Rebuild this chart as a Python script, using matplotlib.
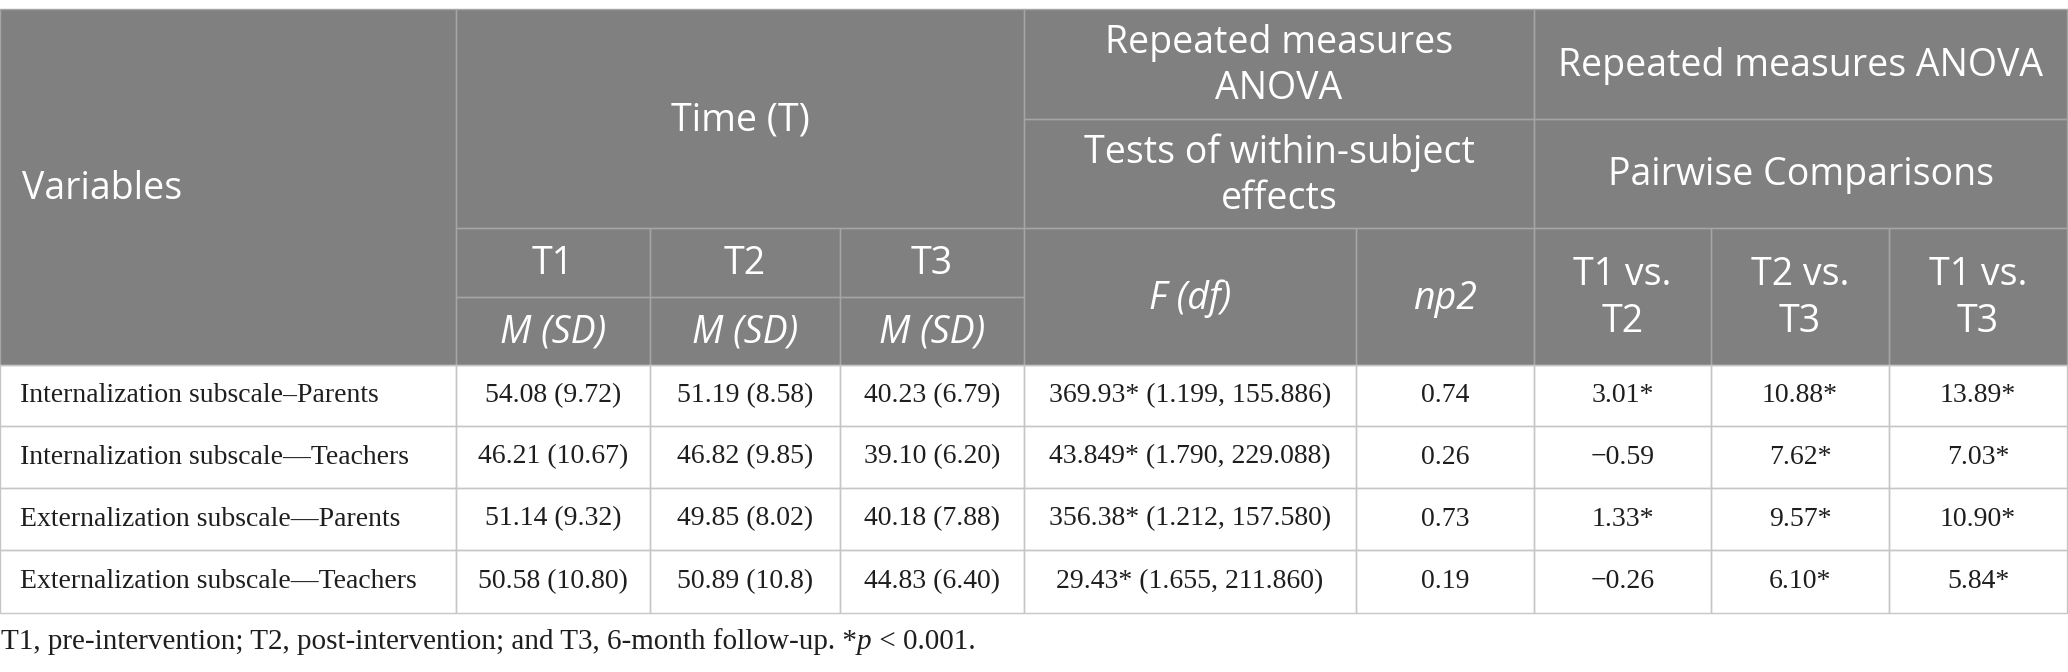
import matplotlib.pyplot as plt
from matplotlib.patches import Rectangle

# table content
variables = [
    "Internalization subscale–Parents",
    "Internalization subscale—Teachers",
    "Externalization subscale—Parents",
    "Externalization subscale—Teachers",
]
t1 = ["54.08 (9.72)", "46.21 (10.67)", "51.14 (9.32)", "50.58 (10.80)"]
t2 = ["51.19 (8.58)", "46.82 (9.85)", "49.85 (8.02)", "50.89 (10.8)"]
t3 = ["40.23 (6.79)", "39.10 (6.20)", "40.18 (7.88)", "44.83 (6.40)"]
f_df = ["369.93* (1.199, 155.886)", "43.849* (1.790, 229.088)",
        "356.38* (1.212, 157.580)", "29.43* (1.655, 211.860)"]
np2 = ["0.74", "0.26", "0.73", "0.19"]
t1_vs_t2 = ["3.01*", "\u22120.59", "1.33*", "\u22120.26"]
t2_vs_t3 = ["10.88*", "7.62*", "9.57*", "6.10*"]
t1_vs_t3 = ["13.89*", "7.03*", "10.90*", "5.84*"]

time_labels = ["T1", "T2", "T3"]
stat_label = "M (SD)"
pair_labels = ["T1 vs.\nT2", "T2 vs.\nT3", "T1 vs.\nT3"]
footnote = ["T1, pre-intervention; T2, post-intervention; and T3, 6-month follow-up. *",
            "p", " < 0.001."]

# layout in pixels
col_x = [0, 456, 650, 840, 1024, 1356, 1534, 1711, 1889, 2067]
head_y = [9, 119, 228, 297, 365]
body_y = [365, 426, 488, 550, 613]

HEAD_BG = "#808080"
HEAD_LINE = "#a5a5a5"
BODY_LINE = "#c6c6c6"
SANS = ["Open Sans", "DejaVu Sans"]
SERIF = ["Liberation Serif", "DejaVu Serif"]
INK = "#1e1e1e"

fig = plt.figure(figsize=(20.68, 6.72), dpi=100)
ax = fig.add_axes([0, 0, 1, 1])
ax.set_xlim(0, 2068)
ax.set_ylim(672, 0)
ax.axis("off")

ax.add_patch(Rectangle((0, head_y[0]), col_x[-1], head_y[-1] - head_y[0],
                       facecolor=HEAD_BG, edgecolor="none"))

def head_cell(c0, c1, r0, r1, text, italic=False, left=False):
    x0, x1 = col_x[c0], col_x[c1]
    y0, y1 = head_y[r0], head_y[r1]
    ax.add_patch(Rectangle((x0, y0), x1 - x0, y1 - y0, facecolor="none",
                           edgecolor=HEAD_LINE, lw=1.0))
    if left:
        tx, ha = x0 + 22, "left"
    else:
        tx, ha = (x0 + x1) / 2, "center"
    ax.text(tx, (y0 + y1) / 2 + 2, text, ha=ha, va="center", multialignment="center",
            color="white", fontsize=27, family=SANS,
            style="italic" if italic else "normal", linespacing=1.28)

head_cell(0, 1, 0, 4, "Variables", left=True)
head_cell(1, 4, 0, 2, "Time (T)")
head_cell(4, 6, 0, 1, "Repeated measures\nANOVA")
head_cell(6, 9, 0, 1, "Repeated measures ANOVA")
head_cell(4, 6, 1, 2, "Tests of within-subject\neffects")
head_cell(6, 9, 1, 2, "Pairwise Comparisons")
for i, lab in enumerate(time_labels):
    head_cell(1 + i, 2 + i, 2, 3, lab)
    head_cell(1 + i, 2 + i, 3, 4, stat_label, italic=True)
head_cell(4, 5, 2, 4, "F (df)", italic=True)
head_cell(5, 6, 2, 4, "np2", italic=True)
for i, lab in enumerate(pair_labels):
    head_cell(6 + i, 7 + i, 2, 4, lab)

columns = [variables, t1, t2, t3, f_df, np2, t1_vs_t2, t2_vs_t3, t1_vs_t3]
for c, values in enumerate(columns):
    x0, x1 = col_x[c], col_x[c + 1]
    for r, val in enumerate(values):
        y0, y1 = body_y[r], body_y[r + 1]
        ax.add_patch(Rectangle((x0, y0), x1 - x0, y1 - y0, facecolor="none",
                               edgecolor=BODY_LINE, lw=1.0))
        if c == 0:
            ax.text(x0 + 20, (y0 + y1) / 2, val, ha="left", va="center",
                    fontsize=20, family=SERIF, color=INK)
        else:
            ax.text((x0 + x1) / 2, (y0 + y1) / 2, val, ha="center", va="center",
                    fontsize=20, family=SERIF, color=INK)

# footnote with italic p
prev = ax.text(1, 655, footnote[0], ha="left", va="bottom",
               fontsize=21, family=SERIF, color=INK)
for k, piece in enumerate(footnote[1:]):
    prev = ax.annotate(piece, xy=(1, 0), xycoords=prev, ha="left", va="bottom",
                       fontsize=21, family=SERIF, color=INK,
                       style="italic" if k == 0 else "normal")

fig.savefig("out.png", dpi=100)
